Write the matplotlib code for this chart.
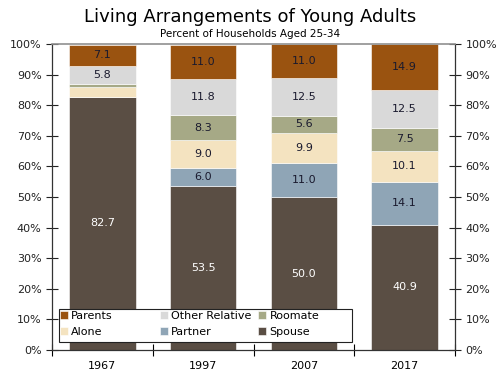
import matplotlib.pyplot as plt
from matplotlib.patches import Rectangle
from matplotlib.legend import Legend
import numpy as np

years = ["1967", "1997", "2007", "2017"]
categories = ["Spouse", "Partner", "Alone", "Roomate", "Other Relative", "Parents"]
spouse = [82.7, 53.5, 50.0, 40.9]
partner = [0.0, 6.0, 11.0, 14.1]
alone = [3.1, 9.0, 9.9, 10.1]
roomate = [1.1, 8.3, 5.6, 7.5]
other_relative = [5.8, 11.8, 12.5, 12.5]
parents = [7.1, 11.0, 11.0, 14.9]
# small segments in 1967 are not labelled
show_label = [
    [True, True, True, True],
    [False, True, True, True],
    [False, True, True, True],
    [False, True, True, True],
    [True, True, True, True],
    [True, True, True, True],
]

colors = ["#5a4e44", "#8fa5b6", "#f4e3c0", "#a6a986", "#d9d9d9", "#9a5310"]
text_colors = ["white", "#1a1a2e", "#1a1a2e", "#1a1a2e", "#1a1a2e", "#1a1a2e"]

fig = plt.figure(figsize=(5, 3.76), dpi=100)
ax = fig.add_axes([0.104, 0.069, 0.806, 0.814])

x = np.arange(len(years))
series = [spouse, partner, alone, roomate, other_relative, parents]
bottom = np.zeros(len(years))
handles = {}
for i, (name, vals) in enumerate(zip(categories, series)):
    vals = np.array(vals)
    bars = ax.bar(x, vals, 0.66, bottom=bottom, color=colors[i],
                  edgecolor="white", linewidth=0.4, label=name)
    handles[name] = bars
    for j, v in enumerate(vals):
        if show_label[i][j] and v > 0:
            ax.text(x[j], bottom[j] + v / 2, f"{v:.1f}", ha="center", va="center",
                    fontsize=8, color=text_colors[i])
    bottom += vals

ax.set_xlim(-0.5, len(years) - 0.5)
ax.set_ylim(0, 100)
ax.set_yticks(range(0, 101, 10))
ax.set_yticklabels([f"{v}%" for v in range(0, 101, 10)])
ax.set_xticks(x)
ax.set_xticklabels(years)
ax.set_xticks(np.arange(-0.5, len(years)), minor=True)
ax.tick_params(axis="x", which="major", length=0, labelsize=8, pad=8)
ax.tick_params(axis="x", which="minor", direction="inout", length=8, width=0.8)
ax.tick_params(axis="y", direction="inout", length=8, width=0.8, labelsize=8,
               right=True, labelright=True, colors="#222222")
for s in ["left", "right", "bottom"]:
    ax.spines[s].set_color("#333333")
    ax.spines[s].set_linewidth(0.9)
ax.spines["top"].set_color("#909090")
ax.spines["top"].set_linewidth(1.2)

# legend: fixed-width columns inside one box
legend_cols = [["Parents", "Alone"], ["Other Relative", "Partner"], ["Roomate", "Spouse"]]
col_x = [0.012, 0.26, 0.504]
for k, names in enumerate(legend_cols):
    leg = Legend(ax, [handles[n] for n in names], names, loc="upper left",
                 bbox_to_anchor=(col_x[k], 0.138), fontsize=8, frameon=False,
                 handlelength=0.7, handleheight=0.7, handletextpad=0.3,
                 borderpad=0.3, labelspacing=0.55, borderaxespad=0)
    leg.set_zorder(6)
    ax.add_artist(leg)
ax.add_patch(Rectangle((0.017, 0.026), 0.727, 0.108, transform=ax.transAxes,
                       facecolor="white", edgecolor="#222222", linewidth=0.8,
                       zorder=5))

fig.text(0.5, 0.955, "Living Arrangements of Young Adults", ha="center",
         va="center", fontsize=13)
fig.text(0.5, 0.91, "Percent of Households Aged 25-34", ha="center",
         va="center", fontsize=7.5)

fig.savefig("out.png", dpi=100)
